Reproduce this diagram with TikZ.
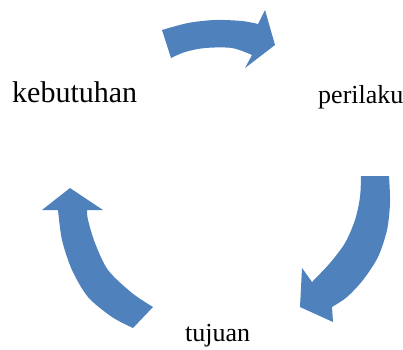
\documentclass[tikz,border=0pt]{standalone}
\usepackage{fontspec}
\setmainfont{Liberation Serif}
\usetikzlibrary{positioning,calc}
\definecolor{cycleblue}{RGB}{79,129,189}

\begin{document}
\begin{tikzpicture}[x=1pt,y=1pt]
  \tikzstyle{word}=[inner sep=0pt,anchor=base west,font=\fontsize{26}{30}\selectfont]
  \tikzstyle{bigarrow}=[fill=cycleblue,draw=none]
  \useasboundingbox (0,0) rectangle (403,349);
  \coordinate (c) at (0,0);

  \draw (c)++(12,247) node[word,font=\fontsize{30}{36}\selectfont] (kebutuhan){kebutuhan};
  \draw (c)++(318,246) node[word] (perilaku){perilaku};
  \draw (c)++(185,8) node[word] (tujuan){tujuan};

  \fill[bigarrow] plot[smooth] coordinates {(162,319) (188,326) (215,329) (242,328) (258,325)}
    -- (265,339) -- (275,304) -- (245,281)
    -- plot[smooth] coordinates {(252,294) (232,301) (205,301) (185,297) (171,291)} -- cycle;
  \fill[bigarrow] (361,173)
    -- plot[smooth] coordinates {(389,173) (390,146) (387,119) (378,92) (363,69) (347,52) (332,42)}
    -- (333,27) -- (300,42) -- (302,81)
    -- plot[smooth] coordinates {(312,67) (330,86) (345,106) (355,129) (360,152) (361,173)} -- cycle;
  \fill[bigarrow] (133,21)
    -- plot[smooth] coordinates {(153,42) (132,56) (108,79) (95,106) (88,129) (87,139)}
    -- (103,139) -- (70,161) -- (42,139)
    -- plot[smooth] coordinates {(58,139) (62,109) (72,79) (88,52) (112,32) (133,21)} -- cycle;
\end{tikzpicture}
\end{document}
